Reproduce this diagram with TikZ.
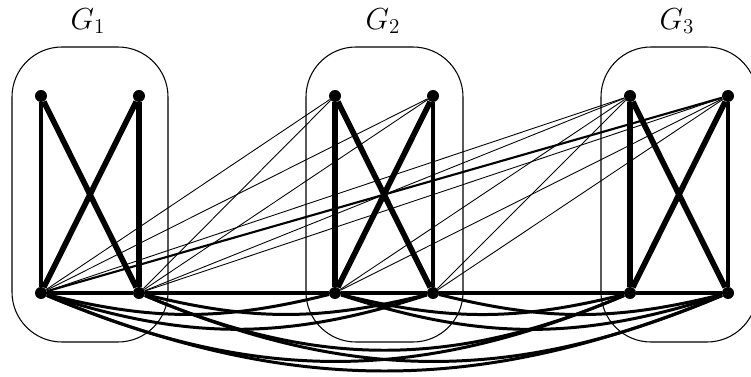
\documentclass[tikz,border=0pt]{standalone}
\begin{document}
\begin{tikzpicture}[
  x=0.2mm, y=0.2mm,
  vnode/.style={circle, fill, minimum size=2.4mm, inner sep=0pt},
  grp/.style={draw, line width=0.6pt, rounded corners=10mm},
  heavy/.style={line width=3.2pt},
  medium/.style={line width=1.9pt},
  light/.style={line width=0.5pt},
  curved/.style={line width=1.7pt, bend right=#1}
]
  \useasboundingbox (0,0) rectangle (751,377);
  % skupiny
  \draw[grp] (12,35) rectangle (168,330);
  \draw[grp] (306,35) rectangle (463,330);
  \draw[grp] (601,35) rectangle (757,330);
  \node at (88,356) {\LARGE $G_1$};
  \node at (383,356) {\LARGE $G_2$};
  \node at (677,356) {\LARGE $G_3$};
  % vrcholy
  \node[vnode] (1a) at (41,281) {};
  \node[vnode] (1b) at (139,281) {};
  \node[vnode] (1c) at (41,84) {};
  \node[vnode] (1d) at (139,84) {};
  \node[vnode] (2a) at (335,281) {};
  \node[vnode] (2b) at (433,281) {};
  \node[vnode] (2c) at (335,84) {};
  \node[vnode] (2d) at (433,84) {};
  \node[vnode] (3a) at (630,281) {};
  \node[vnode] (3b) at (728,281) {};
  \node[vnode] (3c) at (630,84) {};
  \node[vnode] (3d) at (728,84) {};
  % hrany uvnitr skupin
  \draw[medium] (1a) -- (1c);
  \draw[heavy] (1b) -- (1d);
  \draw[heavy] (1a) -- (1d);
  \draw[heavy] (1b) -- (1c);
  \draw[heavy] (2a) -- (2c);
  \draw[medium] (2b) -- (2d);
  \draw[heavy] (2a) -- (2d);
  \draw[heavy] (2b) -- (2c);
  \draw[heavy] (3a) -- (3c);
  \draw[medium] (3b) -- (3d);
  \draw[heavy] (3a) -- (3d);
  \draw[heavy] (3b) -- (3c);
  \draw[medium] (1c) -- (1d) -- (2c) -- (2d) -- (3c) -- (3d);
  % tenke hrany mezi skupinami
  \draw[light] (1c) -- (2a);
  \draw[light] (1c) -- (2b);
  \draw[light] (1c) -- (3a);
  \draw[line width=1.2pt] (1c) -- (3b);
  \draw[light] (1d) -- (2a);
  \draw[light] (1d) -- (2b);
  \draw[light] (1d) -- (3a);
  \draw[light] (1d) -- (3b);
  \draw[light] (2c) -- (3a);
  \draw[light] (2c) -- (3b);
  \draw[light] (2d) -- (3a);
  \draw[light] (2d) -- (3b);
  % oblouky dole
  \draw[curved=14] (1c) to (2c);
  \draw[curved=18] (1c) to (2d);
  \draw[curved=23] (1c) to (3c);
  \draw[curved=22.5] (1c) to (3d);
  \draw[curved=14] (1d) to (2d);
  \draw[curved=23] (1d) to (3c);
  \draw[curved=23] (1d) to (3d);
  \draw[curved=14] (2c) to (3c);
  \draw[curved=18] (2c) to (3d);
  \draw[curved=14] (2d) to (3d);
\end{tikzpicture}
\end{document}
